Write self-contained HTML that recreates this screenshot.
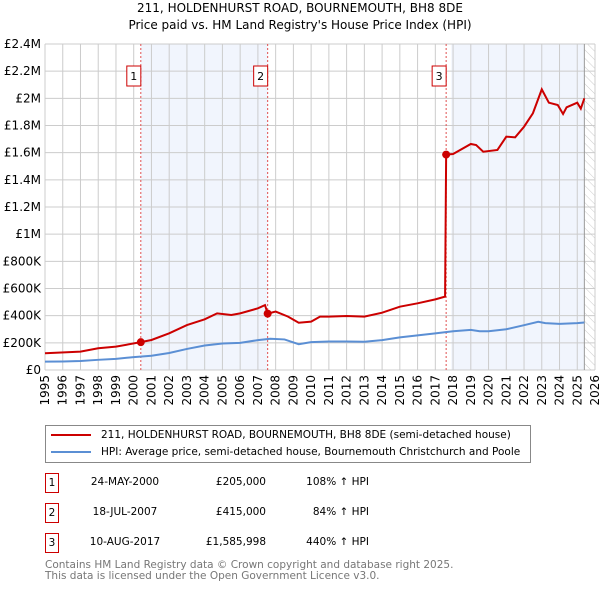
<!DOCTYPE html>
<html><head><meta charset="utf-8"><style>
body{margin:0;background:#fff;font-family:"DejaVu Sans","Liberation Sans",sans-serif;}
#wrap{position:relative;width:600px;height:590px;overflow:hidden;}
.t{position:absolute;font-size:10.5px;color:#000;white-space:nowrap}
svg text{font-family:"DejaVu Sans","Liberation Sans",sans-serif;}
</style></head><body>
<div id="wrap">
<svg id="chart" width="600" height="420" style="position:absolute;left:0;top:0"></svg>
<div style="position:absolute;left:45px;top:425px;width:486px;height:38px;border:1px solid #888;box-sizing:border-box;font-size:10.5px">
 <div style="position:absolute;left:5px;top:3px;white-space:nowrap"><span style="display:inline-block;width:40px;height:2px;background:#cc0000;vertical-align:middle;margin-right:10px"></span>211, HOLDENHURST ROAD, BOURNEMOUTH, BH8 8DE (semi-detached house)</div>
 <div style="position:absolute;left:5px;top:20px;white-space:nowrap"><span style="display:inline-block;width:40px;height:2px;background:#5b8fd4;vertical-align:middle;margin-right:10px"></span>HPI: Average price, semi-detached house, Bournemouth Christchurch and Poole</div>
</div>
<div id="tbl"></div>
<div class="t" style="left:45px;top:560px;color:#777;line-height:11px">Contains HM Land Registry data © Crown copyright and database right 2025.<br>This data is licensed under the Open Government Licence v3.0.</div>
</div>
<script>
const years=[1995,1996,1997,1998,1999,2000,2001,2002,2003,2004,2005,2006,2007,2008,2009,2010,2011,2012,2013,2014,2015,2016,2017,2018,2019,2020,2021,2022,2023,2024,2025,2026];
const yTicks=[0,200000,400000,600000,800000,1000000,1200000,1400000,1600000,1800000,2000000,2200000,2400000];
const yTickLabels=["£0","£200K","£400K","£600K","£800K","£1M","£1.2M","£1.4M","£1.6M","£1.8M","£2M","£2.2M","£2.4M"];
const hpiT=[1995,1996,1997,1998,1999,2000,2001,2002,2003,2004,2005,2006,2007,2007.7,2008.5,2009.3,2010,2011,2012,2013,2014,2015,2016,2017,2018,2019,2019.5,2020,2021,2022,2022.8,2023.2,2024,2025,2025.4];
const hpiV=[62000,63000,66000,75000,82000,95000,105000,125000,155000,180000,195000,200000,220000,230000,225000,190000,205000,210000,210000,208000,220000,240000,255000,270000,285000,295000,285000,285000,300000,330000,355000,345000,340000,345000,350000];
const redT=[1995,1997,1998,1999,2000.4,2001,2002,2003,2004,2004.7,2005.5,2006,2007,2007.4,2007.55,2008,2008.7,2009.3,2010,2010.5,2011,2012,2013,2014,2015,2016,2017,2017.55,2017.61,2018,2019,2019.3,2019.7,2020.5,2021,2021.5,2022,2022.5,2023,2023.4,2023.9,2024.2,2024.4,2025,2025.2,2025.4];
const redV=[123000,135000,160000,172000,205000,221000,270000,331000,373000,417000,405000,417000,454000,478000,415000,430000,393000,348000,356000,393000,393000,398000,393000,422000,466000,491000,520000,540000,1586000,1590000,1664000,1656000,1607000,1620000,1718000,1713000,1791000,1890000,2066000,1968000,1951000,1885000,1934000,1968000,1924000,2000000];
const saleT=[2000.4,2007.55,2017.61];
const saleV=[205000,415000,1585998];
const saleLabels=["1","2","3"];
const saleDates=["24-MAY-2000","18-JUL-2007","10-AUG-2017"];
const salePrices=["£205,000","£415,000","£1,585,998"];
const saleHpi=["108% ↑ HPI","84% ↑ HPI","440% ↑ HPI"];

const X0=45,X1=595,Y0=370,Y1=44;
const x=t=>X0+(t-1995)/(2026-1995)*(X1-X0);
const y=v=>Y0-v/2400000*(Y0-Y1);
const svg=document.getElementById('chart');
const NS='http://www.w3.org/2000/svg';
function mk(tag,attrs,parent){const e=document.createElementNS(NS,tag);for(const k in attrs)e.setAttribute(k,attrs[k]);(parent||svg).appendChild(e);return e;}
let e;
e=mk('text',{x:300,y:12,'text-anchor':'middle','font-size':'12',fill:'#000'});e.textContent='211, HOLDENHURST ROAD, BOURNEMOUTH, BH8 8DE';


e=mk('text',{x:300,y:29,'text-anchor':'middle','font-size':'12',fill:'#000'});e.textContent="Price paid vs. HM Land Registry's House Price Index (HPI)";


e=mk('rect',{x:x(saleT[0]),y:Y1,width:x(saleT[1])-x(saleT[0]),height:Y0-Y1,fill:'#eef3fc',opacity:0.8});


e=mk('rect',{x:x(2017.9),y:Y1,width:x(2025.4)-x(2017.9),height:Y0-Y1,fill:'#eef3fc',opacity:0.8});


const defs=mk('defs',{});
const pat=mk('pattern',{id:'hatch',width:6,height:6,patternUnits:'userSpaceOnUse',patternTransform:'rotate(-45)'},defs);
mk('line',{x1:0,y1:0,x2:0,y2:6,stroke:'#ccc','stroke-width':1},pat);
e=mk('rect',{x:x(2025.4),y:Y1,width:X1-x(2025.4),height:Y0-Y1,fill:'url(#hatch)'});


years.forEach(t=>{e=mk('line',{x1:x(t),x2:x(t),y1:Y1,y2:Y0,stroke:'#ccc','stroke-width':1});


e=mk('text',{transform:`translate(${x(t)+4},${Y0+5}) rotate(-90)`,'text-anchor':'end','font-size':'12',fill:'#000'});e.textContent=t;

});
yTicks.forEach((v,i)=>{e=mk('line',{x1:X0,x2:X1,y1:y(v),y2:y(v),stroke:'#ccc','stroke-width':1});


e=mk('text',{x:X0-4,y:y(v)+4,'text-anchor':'end','font-size':'12',fill:'#000'});e.textContent=yTickLabels[i];

});
e=mk('line',{x1:x(2025.4),x2:x(2025.4),y1:Y1,y2:Y0,stroke:'#999','stroke-width':1});


saleT.forEach((t,i)=>{e=mk('line',{x1:x(t),x2:x(t),y1:Y1,y2:Y0,stroke:'#e05050','stroke-width':1,'stroke-dasharray':'2,2'});


const g=mk('g',{});


mk('rect',{x:x(t)-14,y:66,width:14,height:20,fill:'#fff',stroke:'#cc0000'},g);
const tx=mk('text',{x:x(t)-7,y:80,'text-anchor':'middle','font-size':'11',fill:'#000'},g);tx.textContent=saleLabels[i];});
e=mk('polyline',{points:hpiT.map((t,i)=>x(t)+','+y(hpiV[i])).join(' '),fill:'none',stroke:'#5b8fd4','stroke-width':2});


e=mk('polyline',{points:redT.map((t,i)=>x(t)+','+y(redV[i])).join(' '),fill:'none',stroke:'#cc0000','stroke-width':2});


saleT.forEach((t,i)=>{e=mk('circle',{cx:x(t),cy:y(saleV[i]),r:4,fill:'#cc0000'});

});
const tbl=document.getElementById('tbl');
saleT.forEach((t,i)=>{const cy=483+i*30;
const row=document.createElement('div');


row.innerHTML=`<div style="position:absolute;left:45px;top:${cy-10}px;width:14px;height:20px;border:1px solid #cc0000;box-sizing:border-box;font-size:10.5px;text-align:center;line-height:18px">${saleLabels[i]}</div>`+
`<div class="t" style="left:80px;width:90px;text-align:center;top:${cy-7}px">${saleDates[i]}</div>`+
`<div class="t" style="left:176px;width:90px;text-align:right;top:${cy-7}px">${salePrices[i]}</div>`+
`<div class="t" style="left:279px;width:90px;text-align:right;top:${cy-7}px">${saleHpi[i]}</div>`;
tbl.appendChild(row);});
</script>
</body></html>
